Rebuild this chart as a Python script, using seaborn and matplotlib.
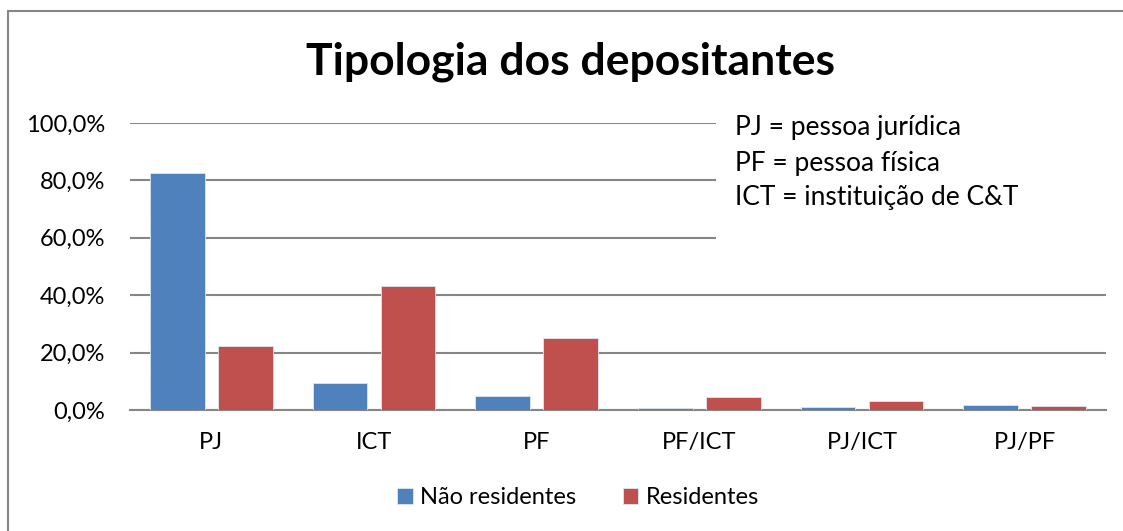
import pandas as pd
import matplotlib.pyplot as plt
import seaborn as sns
from matplotlib.patches import Rectangle
from matplotlib.lines import Line2D
from matplotlib.ticker import FuncFormatter

# Values (%)
categorias = ["PJ", "ICT", "PF", "PF/ICT", "PJ/ICT", "PJ/PF"]
nao_residentes = [82.6, 9.3, 4.9, 0.6, 1.0, 1.7]
residentes = [22.4, 43.3, 25.1, 4.4, 3.0, 1.4]
series = ["Não residentes", "Residentes"]
cores = {"Não residentes": "#4F81BD", "Residentes": "#C0504D"}
notas = ["PJ = pessoa jurídica", "PF = pessoa física", "ICT = instituição de C&T"]

df = pd.DataFrame({
    "categoria": categorias * 2,
    "valor": nao_residentes + residentes,
    "serie": [series[0]] * len(categorias) + [series[1]] * len(categorias),
})

sns.set_style("white")
plt.rcParams["font.family"] = ["Lato", "DejaVu Sans"]
plt.rcParams["text.color"] = "black"

W, H = 1123, 531
fig = plt.figure(figsize=(W / 100, H / 100), dpi=100)
ax = fig.add_axes([130 / W, (H - 410) / H, (1106 - 130) / W, (410 - 123) / H])

sns.barplot(data=df, x="categoria", y="valor", hue="serie", order=categorias,
            hue_order=series, palette=cores, width=0.837, gap=0.2,
            edgecolor="#dde6f0", linewidth=0.6, saturation=1, ax=ax, zorder=3)

ax.set_ylim(0, 100)
ax.set_yticks([0, 20, 40, 60, 80, 100])
ax.yaxis.set_major_formatter(FuncFormatter(lambda v, p: f"{v:.1f}%".replace(".", ",")))
ax.grid(axis="y", color="#868686", linewidth=1.5, zorder=0)
ax.set_axisbelow(True)
for s in ["top", "right", "left"]:
    ax.spines[s].set_visible(False)
ax.spines["bottom"].set_color("#868686")
ax.spines["bottom"].set_linewidth(1.5)
ax.tick_params(axis="both", length=0, labelsize=17, colors="black")
ax.tick_params(axis="y", pad=18)
ax.tick_params(axis="x", pad=16)
ax.set_xlabel("")
ax.set_ylabel("")

handles, labels = ax.get_legend_handles_labels()
ax.get_legend().remove()
fig.legend(handles, labels, loc="center", bbox_to_anchor=(578 / W, (H - 498) / H),
           ncol=2, frameon=False, fontsize=17, handlelength=0.65,
           handleheight=0.65, handletextpad=0.3, columnspacing=2.0)

# white box with the abbreviations, covering the top gridlines
fig.add_artist(Rectangle((716 / W, (H - 262) / H), (1110 - 716) / W, (262 - 105) / H,
                         transform=fig.transFigure, facecolor="white",
                         edgecolor="none", zorder=5))
for i, nota in enumerate(notas):
    fig.text(735 / W, (H - 128 - 35 * i) / H, nota, fontsize=19, va="center",
             ha="left", zorder=6)

fig.suptitle("Tipologia dos depositantes", x=570 / W, y=(H - 62) / H,
             fontsize=32, fontweight="bold", va="center")

# chart frame: only the left and top edges fall inside the picture
fig.add_artist(Line2D([8 / W, 8 / W], [-0.05, (H - 11) / H],
                      transform=fig.transFigure, color="#868686", linewidth=1.5))
fig.add_artist(Line2D([8 / W, 1.05], [(H - 11) / H, (H - 11) / H],
                      transform=fig.transFigure, color="#868686", linewidth=1.5))

fig.savefig("out.png", dpi=100)
